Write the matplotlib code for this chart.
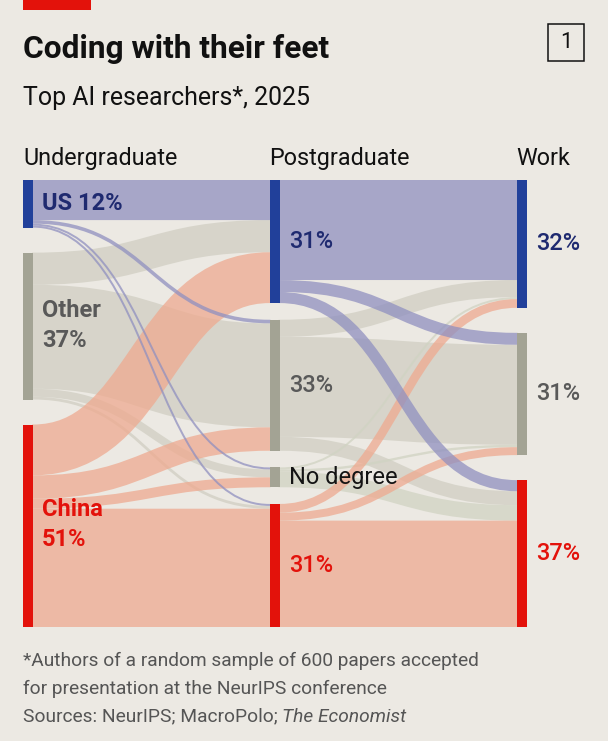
import matplotlib
matplotlib.use("Agg")
import matplotlib.pyplot as plt
from matplotlib.path import Path
from matplotlib.patches import PathPatch, Rectangle
import logging
logging.getLogger("matplotlib.font_manager").setLevel(logging.ERROR)

# ---------------- data ----------------
stages = ["Undergraduate", "Postgraduate", "Work"]
undergrad_nodes = ["US", "Other", "China"]
postgrad_nodes = ["US", "Other", "No degree", "China"]
work_nodes = ["US", "Other", "China"]
undergrad_labels = ["US 12%", "Other\n37%", "China\n51%"]
postgrad_labels = ["31%", "33%", "No degree", "31%"]
work_labels = ["32%", "31%", "37%"]
# share of researchers (%), rows = source node, columns = target node
flows_ug_pg = [[10.1, 0.9, 0.5, 0.5],
               [8.1, 26.2, 2.0, 0.7],
               [12.8, 5.9, 2.5, 29.8]]
flows_pg_work = [[25.2, 3.0, 2.8],
                 [4.3, 25.2, 3.5],
                 [0.5, 0.6, 3.9],
                 [2.2, 2.0, 26.8]]

title = "Coding with their feet"
subtitle = "Top AI researchers*, 2025"
footnote_lines = ["*Authors of a random sample of 600 papers accepted",
                  "for presentation at the NeurIPS conference"]
source_plain = "Sources: NeurIPS; MacroPolo; "
source_italic = "The Economist"
chart_number = "1"

# ---------------- style ----------------
FAM = ['Roboto', 'DejaVu Sans']
BG = "#ece9e3"
node_color = {"US": "#21409a", "Other": "#a3a394", "No degree": "#a3a394", "China": "#e3120b"}
flow_color = {"US": "#9090c0", "Other": "#d0cec2", "No degree": "#d0d3c2", "China": "#eeaa90"}
flow_alpha = 0.75
label_color = {"US": "#1f2a70", "Other": "#595959", "No degree": "#141414", "China": "#e3120b"}

W, H, DPI = 608, 741, 100
fig = plt.figure(figsize=(W / DPI, H / DPI), dpi=DPI, facecolor=BG)
ax = fig.add_axes([0, 0, 1, 1])
ax.set_xlim(0, W)
ax.set_ylim(H, 0)
ax.axis("off")
ax.set_facecolor(BG)

TOP, BOTTOM = 180.0, 627.0
NODE_W = 10.0
col_x = [23.0, 269.5, 516.7]
MIN_GAP = 50.0 / 3

columns = [undergrad_nodes, postgrad_nodes, work_nodes]
col_values = [
    [sum(r) for r in flows_ug_pg],
    [sum(flows_ug_pg[i][j] for i in range(len(undergrad_nodes))) for j in range(len(postgrad_nodes))],
    [sum(flows_pg_work[i][j] for i in range(len(postgrad_nodes))) for j in range(len(work_nodes))],
]
height = BOTTOM - TOP
k = min((height - (len(v) - 1) * MIN_GAP) / sum(v) for v in col_values)

# node positions (top, bottom)
node_pos = []
for vals in col_values:
    gap = (height - sum(vals) * k) / (len(vals) - 1)
    y = TOP
    pos = []
    for v in vals:
        pos.append((y, y + v * k))
        y += v * k + gap
    node_pos.append(pos)

def draw_layer(ci, matrix, src_nodes, tgt_nodes):
    x0 = col_x[ci] + NODE_W
    x1 = col_x[ci + 1]
    xm = (x0 + x1) / 2
    src_off = [p[0] for p in node_pos[ci]]
    tgt_off = [p[0] for p in node_pos[ci + 1]]
    links = []
    for i in range(len(src_nodes)):
        for j in range(len(tgt_nodes)):
            w = matrix[i][j] * k
            ys = src_off[i] + w / 2
            yt = tgt_off[j] + w / 2
            src_off[i] += w
            tgt_off[j] += w
            links.append((src_nodes[i], ys, yt, w))
    order = {"Other": 0, "No degree": 1, "China": 2, "US": 3}
    links.sort(key=lambda l: order[l[0]])
    for name, ys, yt, w in links:
        path = Path([(x0 - 1, ys), (x0, ys), (xm, ys), (xm, yt), (x1, yt), (x1 + 1, yt)],
                    [Path.MOVETO, Path.LINETO, Path.CURVE4, Path.CURVE4, Path.CURVE4, Path.LINETO])
        ax.add_patch(PathPatch(path, facecolor="none", edgecolor=flow_color[name],
                               lw=w * 72 / DPI, alpha=flow_alpha, capstyle="butt",
                               joinstyle="round", zorder=2))

draw_layer(0, flows_ug_pg, undergrad_nodes, postgrad_nodes)
draw_layer(1, flows_pg_work, postgrad_nodes, work_nodes)

# node bars
for ci, nodes in enumerate(columns):
    for ni, name in enumerate(nodes):
        y0, y1 = node_pos[ci][ni]
        ax.add_patch(Rectangle((col_x[ci], y0), NODE_W, y1 - y0, facecolor=node_color[name],
                               edgecolor="none", zorder=4))

# node labels
LBL_SIZE = 17
label_x = [42, 289, 536]
all_labels = [undergrad_labels, postgrad_labels, work_labels]
for ci, nodes in enumerate(columns):
    for ni, name in enumerate(nodes):
        y0, y1 = node_pos[ci][ni]
        yc = (y0 + y1) / 2
        lines = all_labels[ci][ni].split("\n")
        if ci == 0:
            weight = "bold"
        elif name == "No degree":
            weight = "normal"
        else:
            weight = "medium"
        if len(lines) == 1:
            ax.text(label_x[ci], yc + 6.5, lines[0], family=FAM, fontsize=LBL_SIZE,
                    fontweight=weight, color=label_color[name], va="baseline", ha="left", zorder=5)
        else:
            for li, line in enumerate(lines):
                ax.text(label_x[ci], yc - 9.5 + 30 * li, line, family=FAM, fontsize=LBL_SIZE,
                        fontweight=weight, color=label_color[name], va="baseline", ha="left", zorder=5)

# column headers
for ci, s in enumerate(stages):
    ax.text(col_x[ci], 165, s, family=FAM, fontsize=16.8, color="#111111", va="baseline", ha="left")

# title, subtitle
ax.add_patch(Rectangle((23, 0), 68, 9.5, facecolor="#e3120b", edgecolor="none"))
ax.text(23, 58.3, title, family=FAM, fontsize=22.8, fontweight="bold", color="#111111",
        va="baseline", ha="left")
ax.text(23, 105, subtitle, family=FAM, fontsize=17.9, color="#111111", va="baseline", ha="left")

# chart number box
ax.add_patch(Rectangle((547.5, 23.5), 36.5, 37.5, facecolor="none", edgecolor="#111111", lw=1.1))
ax.text(566, 42.5, chart_number, family=FAM, fontsize=15.5, color="#111111", va="center", ha="center")

# footnotes
FN = 13.8
ax.text(23, 666, footnote_lines[0], family=FAM, fontsize=FN, color="#555555", va="baseline")
ax.text(23, 693.5, footnote_lines[1], family=FAM, fontsize=FN, color="#555555", va="baseline")
t = ax.text(23, 721.5, source_plain, family=FAM, fontsize=FN, color="#555555", va="baseline")
fig.canvas.draw()
bb = t.get_window_extent()
ax.text(bb.x1, 721.5, source_italic, family=FAM, fontsize=FN, color="#555555", va="baseline",
        style="italic")

fig.savefig("out.png", dpi=DPI, facecolor=BG)
